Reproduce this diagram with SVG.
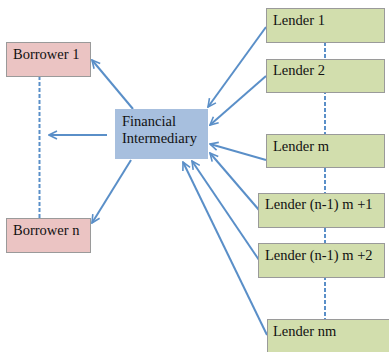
<svg xmlns="http://www.w3.org/2000/svg" width="389" height="352" viewBox="0 0 389 352">
<style>
.b{fill:#EBC4C3;stroke:#9A9A9A;stroke-width:1}
.f{fill:#A7BFDE;stroke:none}
.l{fill:#D2DEAD;stroke:#9A9A9A;stroke-width:1}
text{font-family:'Liberation Serif','Times New Roman',serif;font-size:14.5px;fill:#111}
.a{stroke:#5A8FC8;stroke-width:2;fill:none;marker-end:url(#ah)}
.d{stroke:#5A8FC8;stroke-width:2;stroke-dasharray:4 2;fill:none}
</style>
<defs>
<marker id="ah" viewBox="0 0 10 10" refX="9" refY="5" markerWidth="5" markerHeight="5" orient="auto" markerUnits="strokeWidth">
<path d="M1,1 L9,5 L1,9" fill="none" stroke="#5A8FC8" stroke-width="1.6"/>
</marker>
</defs>
<g id="connectors">
<line class="d" x1="39.5" y1="76" x2="39.5" y2="218"/>
<line class="d" x1="325" y1="42" x2="325" y2="319"/>
<line class="a" x1="133" y1="109" x2="92" y2="60"/>
<line class="a" x1="107" y1="135" x2="49" y2="135"/>
<line class="a" x1="131" y1="160" x2="92" y2="223"/>
<line class="a" x1="266" y1="27" x2="208" y2="107"/>
<line class="a" x1="266" y1="76" x2="210" y2="125"/>
<line class="a" x1="266" y1="160" x2="210" y2="144"/>
<line class="a" x1="259" y1="210" x2="210" y2="153"/>
<line class="a" x1="259" y1="260" x2="192" y2="161"/>
<line class="a" x1="267" y1="335" x2="183" y2="162"/>
</g>
<g id="borrower1"><rect class="b" x="6.5" y="42.5" width="84" height="34"/><text x="13" y="59" font-family="Liberation Serif">Borrower 1</text></g>
<g id="borrowern"><rect class="b" x="6.5" y="218.5" width="84" height="34"/><text x="13" y="235" font-family="Liberation Serif">Borrower n</text></g>
<g id="fi"><rect class="f" x="115" y="109" width="93" height="50"/><text x="122" y="126" font-family="Liberation Serif">Financial</text><text x="122" y="143" font-family="Liberation Serif">Intermediary</text></g>
<g id="lender1"><rect class="l" x="266.5" y="8.5" width="118" height="34"/><text x="273" y="25" font-family="Liberation Serif">Lender 1</text></g>
<g id="lender2"><rect class="l" x="266.5" y="59.5" width="118" height="33"/><text x="273" y="75" font-family="Liberation Serif">Lender 2</text></g>
<g id="lenderm"><rect class="l" x="266.5" y="134.5" width="118" height="33"/><text x="273" y="151" font-family="Liberation Serif">Lender m</text></g>
<g id="lendern1"><rect class="l" x="258.5" y="193.5" width="126" height="34"/><text x="265" y="209" font-family="Liberation Serif">Lender (n-1) m +1</text></g>
<g id="lendern2"><rect class="l" x="258.5" y="243.5" width="126" height="34"/><text x="265" y="260" font-family="Liberation Serif">Lender (n-1) m +2</text></g>
<g id="lendernm"><rect class="l" x="267.5" y="319.5" width="130" height="40"/><text x="273" y="336" font-family="Liberation Serif">Lender nm</text></g>
</svg>
